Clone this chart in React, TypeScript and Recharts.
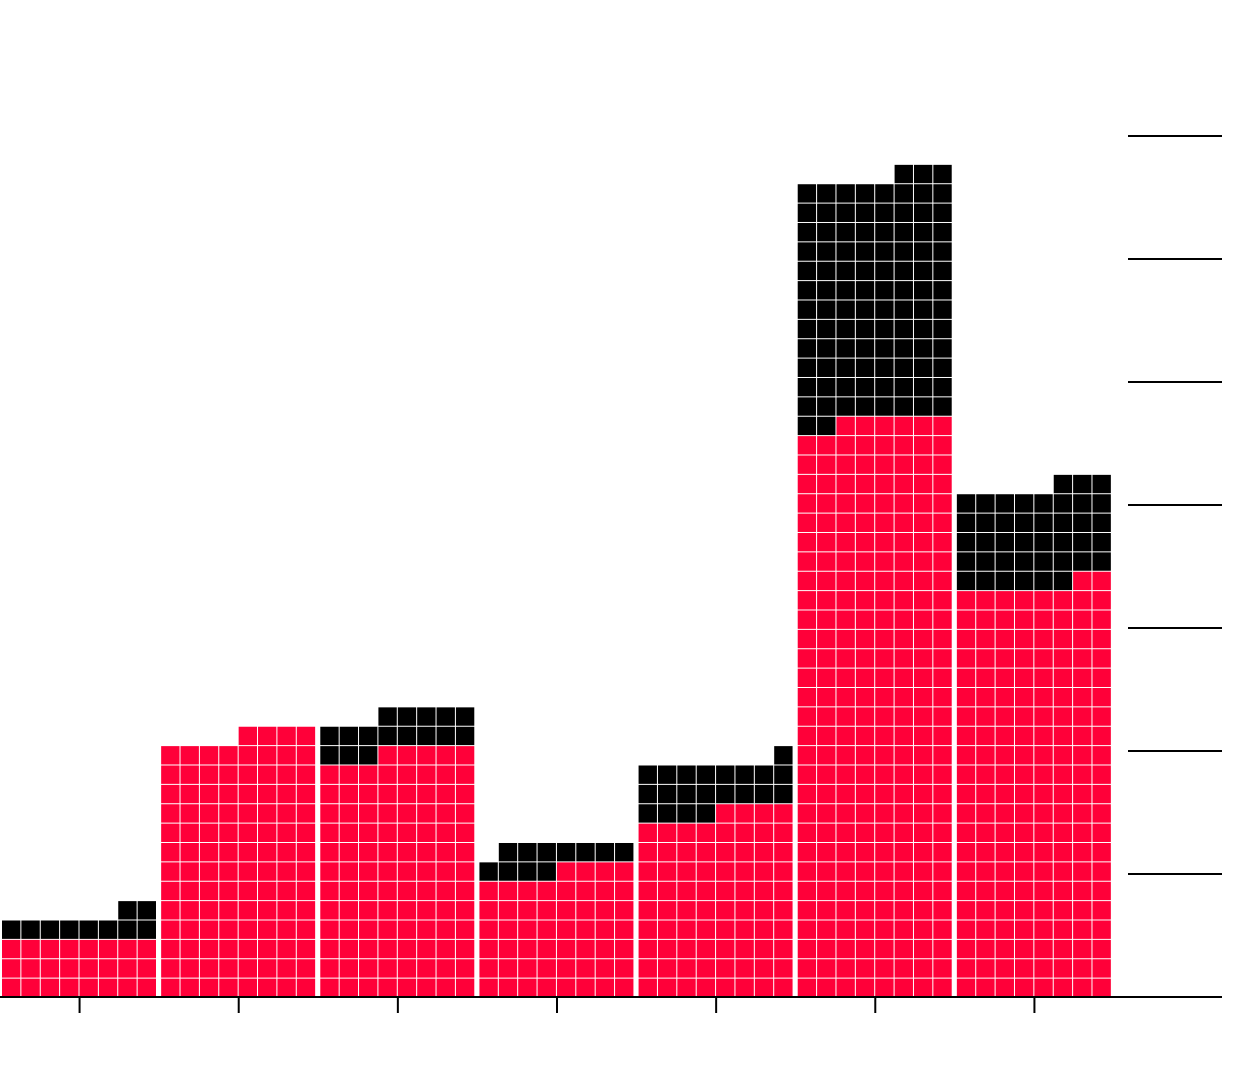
import React from 'react';
import { BarChart, Bar, XAxis, YAxis } from 'recharts';

// Waffle bars: every cell is one unit, 8 cells per row, rows filled right to left
const CATEGORIES = ['A', 'B', 'C', 'D', 'E', 'F', 'G'];
const RED_CELLS = [24, 108, 101, 52, 76, 238, 170];
const BLACK_CELLS = [10, 0, 16, 11, 21, 101, 41];

const COLS = 8;
const Y_MAX = 355.5;
const Y_TICKS = [0, 1, 2, 3, 4, 5, 6, 7].map((i) => (i * Y_MAX) / 7);

const RED = '#ff0039';
const BLACK = '#000000';

const data = CATEGORIES.map((name, i) => ({
  name,
  red: RED_CELLS[i],
  black: BLACK_CELLS[i]
}));

// Draws the cells of one stacked segment inside the rectangle Recharts computed for it
const WaffleShape = (props: any) => {
  const { x, y, width, height, payload, series, color } = props;
  const count: number = payload[series];
  if (!count || !height) return null;
  const start: number = series === 'red' ? 0 : payload.red;

  const pxPerCell = height / count;
  const baseY = y + height + start * pxPerCell;
  const cw = width / COLS;
  const rh = pxPerCell * COLS;

  const cells = [];
  for (let i = start; i < start + count; i++) {
    const row = Math.floor(i / COLS);
    const col = COLS - 1 - (i % COLS);
    cells.push(
      <rect
        key={i}
        x={x + col * cw}
        y={baseY - (row + 1) * rh + 1}
        width={cw - 1}
        height={rh - 1}
        fill={color}
      />
    );
  }
  return <g>{cells}</g>;
};

// no labels, only the tick lines
const NoLabel = () => <g />;

export default function App() {
  return (
    <div>
      <style>{'body{margin:0}'}</style>
      <BarChart
        width={1240}
        height={1080}
        data={data}
        margin={{ top: 136, right: 18, bottom: 53, left: 0 }}
        barCategoryGap={2}
      >
        <XAxis
          dataKey="name"
          tick={NoLabel}
          tickSize={16}
          height={30}
          padding={{ left: 0, right: 14 }}
          axisLine={{ stroke: '#000', strokeWidth: 2 }}
          tickLine={{ stroke: '#000', strokeWidth: 2 }}
        />
        <YAxis
          orientation="right"
          type="number"
          domain={[0, Y_MAX]}
          ticks={Y_TICKS}
          width={94}
          tickSize={94}
          tick={NoLabel}
          axisLine={false}
          tickLine={{ stroke: '#000', strokeWidth: 2 }}
        />
        <Bar
          dataKey="red"
          stackId="w"
          fill={RED}
          isAnimationActive={false}
          shape={(p: any) => <WaffleShape {...p} series="red" color={RED} />}
        />
        <Bar
          dataKey="black"
          stackId="w"
          fill={BLACK}
          isAnimationActive={false}
          shape={(p: any) => <WaffleShape {...p} series="black" color={BLACK} />}
        />
      </BarChart>
    </div>
  );
}
